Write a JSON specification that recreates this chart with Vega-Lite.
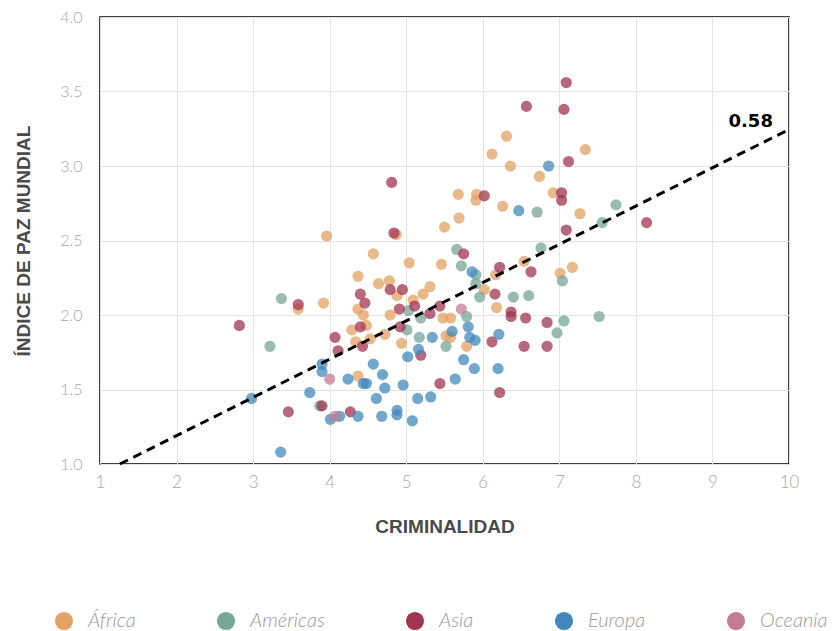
{
  "$schema": "https://vega.github.io/schema/vega-lite/v6.json",
  "width": 689,
  "height": 447,
  "autosize": "none",
  "padding": {"left": 100, "top": 17, "right": 49, "bottom": 167},
  "background": "white",
  "config": {
    "view": {"stroke": "#000000", "strokeWidth": 1.5},
    "axis": {
      "domain": false,
      "ticks": false,
      "gridColor": "#e3e3e3",
      "gridWidth": 1,
      "labelFont": "Lato",
      "labelFontWeight": 300,
      "labelFontSize": 16,
      "labelColor": "#a8a8a8",
      "titleFont": "Liberation Sans",
      "titleFontWeight": "bold",
      "titleFontSize": 19,
      "titleColor": "#4a4a4a"
    }
  },
  "datasets": {
    "pts": [
      {"r": "África", "x": 3.96, "y": 2.53}, {"r": "África", "x": 4.87, "y": 2.54}, {"r": "África", "x": 4.57, "y": 2.41},
      {"r": "África", "x": 5.04, "y": 2.35}, {"r": "África", "x": 4.37, "y": 2.26}, {"r": "África", "x": 4.64, "y": 2.21},
      {"r": "África", "x": 4.78, "y": 2.23}, {"r": "África", "x": 4.88, "y": 2.13}, {"r": "África", "x": 5.09, "y": 2.10},
      {"r": "África", "x": 5.22, "y": 2.14}, {"r": "África", "x": 5.31, "y": 2.19}, {"r": "África", "x": 5.46, "y": 2.34},
      {"r": "África", "x": 5.50, "y": 2.59}, {"r": "África", "x": 4.79, "y": 2.00}, {"r": "África", "x": 4.72, "y": 1.87},
      {"r": "África", "x": 4.94, "y": 1.81}, {"r": "África", "x": 5.48, "y": 1.98}, {"r": "África", "x": 5.58, "y": 1.98},
      {"r": "África", "x": 5.52, "y": 1.86}, {"r": "África", "x": 5.58, "y": 1.85}, {"r": "África", "x": 5.79, "y": 1.79},
      {"r": "África", "x": 6.02, "y": 2.17}, {"r": "África", "x": 6.17, "y": 2.27}, {"r": "África", "x": 6.18, "y": 2.05},
      {"r": "África", "x": 4.37, "y": 1.59}, {"r": "África", "x": 4.34, "y": 1.82}, {"r": "África", "x": 4.53, "y": 1.84},
      {"r": "África", "x": 4.29, "y": 1.90}, {"r": "África", "x": 4.48, "y": 1.93}, {"r": "África", "x": 4.44, "y": 2.00},
      {"r": "África", "x": 4.37, "y": 2.04}, {"r": "África", "x": 3.59, "y": 2.04}, {"r": "África", "x": 3.92, "y": 2.08},
      {"r": "África", "x": 5.69, "y": 2.65}, {"r": "África", "x": 5.68, "y": 2.81}, {"r": "África", "x": 5.92, "y": 2.81},
      {"r": "África", "x": 5.91, "y": 2.77}, {"r": "África", "x": 6.26, "y": 2.73}, {"r": "África", "x": 6.31, "y": 3.20},
      {"r": "África", "x": 6.12, "y": 3.08}, {"r": "África", "x": 6.36, "y": 3.00}, {"r": "África", "x": 6.74, "y": 2.93},
      {"r": "África", "x": 6.92, "y": 2.82}, {"r": "África", "x": 7.34, "y": 3.11}, {"r": "África", "x": 7.27, "y": 2.68},
      {"r": "África", "x": 6.54, "y": 2.36}, {"r": "África", "x": 7.01, "y": 2.28}, {"r": "África", "x": 7.17, "y": 2.32},
      {"r": "Américas", "x": 3.37, "y": 2.11}, {"r": "Américas", "x": 3.22, "y": 1.79}, {"r": "Américas", "x": 3.87, "y": 1.39},
      {"r": "Américas", "x": 5.19, "y": 1.98}, {"r": "Américas", "x": 5.01, "y": 1.90}, {"r": "Américas", "x": 5.17, "y": 1.85},
      {"r": "Américas", "x": 5.79, "y": 1.99}, {"r": "Américas", "x": 5.52, "y": 1.79}, {"r": "Américas", "x": 5.66, "y": 2.44},
      {"r": "Américas", "x": 5.72, "y": 2.33}, {"r": "Américas", "x": 5.91, "y": 2.27}, {"r": "Américas", "x": 5.91, "y": 2.21},
      {"r": "Américas", "x": 5.96, "y": 2.12}, {"r": "Américas", "x": 6.40, "y": 2.12}, {"r": "Américas", "x": 6.60, "y": 2.13},
      {"r": "Américas", "x": 6.76, "y": 2.45}, {"r": "Américas", "x": 7.04, "y": 2.23}, {"r": "Américas", "x": 7.06, "y": 1.96},
      {"r": "Américas", "x": 6.97, "y": 1.88}, {"r": "Américas", "x": 7.52, "y": 1.99}, {"r": "Américas", "x": 7.56, "y": 2.62},
      {"r": "Américas", "x": 7.74, "y": 2.74}, {"r": "Américas", "x": 6.71, "y": 2.69}, {"r": "Américas", "x": 5.03, "y": 2.03},
      {"r": "Asia", "x": 7.09, "y": 3.56}, {"r": "Asia", "x": 6.57, "y": 3.40}, {"r": "Asia", "x": 7.06, "y": 3.38},
      {"r": "Asia", "x": 7.12, "y": 3.03}, {"r": "Asia", "x": 6.02, "y": 2.80}, {"r": "Asia", "x": 7.03, "y": 2.82},
      {"r": "Asia", "x": 7.03, "y": 2.77}, {"r": "Asia", "x": 8.14, "y": 2.62}, {"r": "Asia", "x": 7.09, "y": 2.57},
      {"r": "Asia", "x": 4.81, "y": 2.89}, {"r": "Asia", "x": 4.84, "y": 2.55}, {"r": "Asia", "x": 5.75, "y": 2.41},
      {"r": "Asia", "x": 6.22, "y": 2.32}, {"r": "Asia", "x": 6.63, "y": 2.29}, {"r": "Asia", "x": 6.16, "y": 2.14},
      {"r": "Asia", "x": 4.79, "y": 2.17}, {"r": "Asia", "x": 4.95, "y": 2.17}, {"r": "Asia", "x": 5.11, "y": 2.06},
      {"r": "Asia", "x": 5.44, "y": 2.06}, {"r": "Asia", "x": 5.31, "y": 2.01}, {"r": "Asia", "x": 4.91, "y": 2.04},
      {"r": "Asia", "x": 4.92, "y": 1.92}, {"r": "Asia", "x": 5.19, "y": 1.73}, {"r": "Asia", "x": 6.37, "y": 2.02},
      {"r": "Asia", "x": 6.37, "y": 1.99}, {"r": "Asia", "x": 6.56, "y": 1.98}, {"r": "Asia", "x": 6.84, "y": 1.95},
      {"r": "Asia", "x": 6.12, "y": 1.82}, {"r": "Asia", "x": 6.54, "y": 1.79}, {"r": "Asia", "x": 6.84, "y": 1.79},
      {"r": "Asia", "x": 5.44, "y": 1.54}, {"r": "Asia", "x": 6.22, "y": 1.48}, {"r": "Asia", "x": 2.82, "y": 1.93},
      {"r": "Asia", "x": 3.59, "y": 2.07}, {"r": "Asia", "x": 4.40, "y": 2.14}, {"r": "Asia", "x": 4.46, "y": 2.08},
      {"r": "Asia", "x": 4.40, "y": 1.92}, {"r": "Asia", "x": 4.07, "y": 1.85}, {"r": "Asia", "x": 4.11, "y": 1.76},
      {"r": "Asia", "x": 4.43, "y": 1.79}, {"r": "Asia", "x": 3.46, "y": 1.35}, {"r": "Asia", "x": 3.90, "y": 1.39},
      {"r": "Asia", "x": 4.27, "y": 1.35},
      {"r": "Europa", "x": 6.86, "y": 3.00}, {"r": "Europa", "x": 6.47, "y": 2.70}, {"r": "Europa", "x": 5.86, "y": 2.29},
      {"r": "Europa", "x": 5.81, "y": 1.92}, {"r": "Europa", "x": 5.83, "y": 1.85}, {"r": "Europa", "x": 5.90, "y": 1.83},
      {"r": "Europa", "x": 5.60, "y": 1.89}, {"r": "Europa", "x": 5.34, "y": 1.85}, {"r": "Europa", "x": 6.21, "y": 1.87},
      {"r": "Europa", "x": 5.16, "y": 1.77}, {"r": "Europa", "x": 5.02, "y": 1.72}, {"r": "Europa", "x": 5.75, "y": 1.70},
      {"r": "Europa", "x": 5.89, "y": 1.64}, {"r": "Europa", "x": 6.20, "y": 1.64}, {"r": "Europa", "x": 5.64, "y": 1.57},
      {"r": "Europa", "x": 4.96, "y": 1.53}, {"r": "Europa", "x": 5.15, "y": 1.44}, {"r": "Europa", "x": 5.32, "y": 1.45},
      {"r": "Europa", "x": 5.08, "y": 1.29}, {"r": "Europa", "x": 4.88, "y": 1.36}, {"r": "Europa", "x": 4.88, "y": 1.33},
      {"r": "Europa", "x": 4.68, "y": 1.32}, {"r": "Europa", "x": 4.61, "y": 1.44}, {"r": "Europa", "x": 4.72, "y": 1.51},
      {"r": "Europa", "x": 4.69, "y": 1.60}, {"r": "Europa", "x": 4.57, "y": 1.67}, {"r": "Europa", "x": 4.44, "y": 1.54},
      {"r": "Europa", "x": 4.48, "y": 1.54}, {"r": "Europa", "x": 4.24, "y": 1.57}, {"r": "Europa", "x": 3.90, "y": 1.67},
      {"r": "Europa", "x": 3.90, "y": 1.62}, {"r": "Europa", "x": 3.74, "y": 1.48}, {"r": "Europa", "x": 2.98, "y": 1.44},
      {"r": "Europa", "x": 3.36, "y": 1.08}, {"r": "Europa", "x": 4.01, "y": 1.30}, {"r": "Europa", "x": 4.13, "y": 1.32},
      {"r": "Europa", "x": 4.37, "y": 1.32},
      {"r": "Oceanía", "x": 5.72, "y": 2.04}, {"r": "Oceanía", "x": 4.00, "y": 1.57}, {"r": "Oceanía", "x": 4.07, "y": 1.32}
    ],
    "fit": [{"x": 1.26, "y": 1.0}, {"x": 10, "y": 3.245}],
    "lab": [{"x": 9.79, "y": 3.264, "t": "0.58"}]
  },
  "layer": [
    {
      "data": {"name": "pts"},
      "mark": {"type": "circle", "size": 125, "opacity": 0.75},
      "encoding": {
        "x": {
          "field": "x", "type": "quantitative",
          "scale": {"domain": [1, 10], "nice": false, "zero": false},
          "axis": {"values": [1, 2, 3, 4, 5, 6, 7, 8, 9, 10], "format": "d", "labelFlush": false, "labelFontSize": 17, "title": "CRIMINALIDAD", "labelPadding": 10, "titlePadding": 27}
        },
        "y": {
          "field": "y", "type": "quantitative",
          "scale": {"domain": [1, 4], "nice": false, "zero": false},
          "axis": {"values": [1, 1.5, 2, 2.5, 3, 3.5, 4], "format": ".1f", "title": "ÍNDICE DE PAZ MUNDIAL", "labelPadding": 18, "titlePadding": 26}
        },
        "color": {
          "field": "r", "type": "nominal",
          "scale": {
            "domain": ["África", "Américas", "Asia", "Europa", "Oceanía"],
            "range": ["#E3A263", "#77A698", "#A1364F", "#4288BC", "#C27C95"]
          },
          "legend": {
            "title": null,
            "orient": "none",
            "direction": "horizontal",
            "columns": 5,
            "legendX": -46,
            "legendY": 594,
            "symbolType": "circle",
            "symbolSize": 330,
            "symbolOpacity": 1,
            "symbolStrokeWidth": 0,
            "labelOffset": 14,
            "columnPadding": 80,
            "labelFont": "Lato",
            "labelFontStyle": "italic",
            "labelFontWeight": 300,
            "labelFontSize": 20,
            "labelColor": "#9a9a9a",
            "labelLimit": 300
          }
        }
      }
    },
    {
      "data": {"name": "fit"},
      "mark": {"type": "line", "color": "#000000", "strokeWidth": 3, "strokeDash": [9, 6]},
      "encoding": {
        "x": {"field": "x", "type": "quantitative"},
        "y": {"field": "y", "type": "quantitative"}
      }
    },
    {
      "data": {"name": "lab"},
      "mark": {"type": "text", "font": "DejaVu Sans", "fontWeight": "bold", "fontSize": 18, "align": "right", "baseline": "alphabetic", "color": "#000000"},
      "encoding": {
        "x": {"field": "x", "type": "quantitative"},
        "y": {"field": "y", "type": "quantitative"},
        "text": {"field": "t"}
      }
    }
  ]
}
